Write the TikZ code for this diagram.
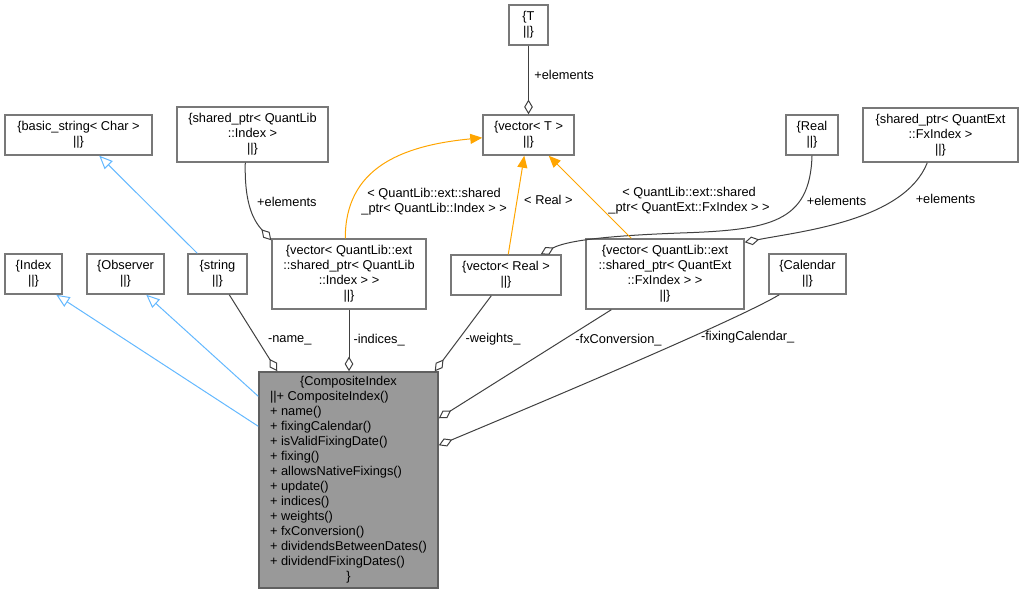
\documentclass[tikz,border=0pt]{standalone}
\usepackage{fontspec}
\setmainfont{Liberation Sans}
\usepackage{xcolor}
\usepackage{tikz}
\usetikzlibrary{arrows.meta, calc}

\definecolor{boxgray}{HTML}{787878}
\definecolor{edgegray}{HTML}{404040}
\definecolor{inhblue}{HTML}{63B8FF}
\definecolor{tmplorange}{HTML}{FFA500}
\definecolor{cifill}{HTML}{999999}
\newcommand{\dxfont}{\fontsize{9.6pt}{11.25pt}\selectfont}

\begin{document}
\begin{tikzpicture}[
  x=0.75pt, y=-0.75pt,
  cls/.style 2 args = {
    draw=boxgray, line width=1.1pt, fill=white, inner sep=0pt,
    minimum width={#1*0.75pt}, minimum height={#2*0.75pt},
    align=center, font=\dxfont
  },
  lbl/.style  = {font=\dxfont, inner sep=0pt, anchor=west, align=center},
  agg/.style  = {-{Diamond[open, fill=white, length=11pt, width=6.5pt]},
                 draw=edgegray, line width=0.75pt},
  inh/.style  = {-{Triangle[open, fill=white, length=10pt, width=8.5pt]},
                 draw=inhblue, line width=0.75pt},
  tmpl/.style = {-{Triangle[length=9pt, width=7.5pt]},
                 draw=tmplorange, line width=0.75pt}
]
\useasboundingbox (0,0) rectangle (1023,593);

% template and element classes
\node[cls={39}{40}]   (T)      at (528.5,25)  {\{T\\||\}};
\node[cls={91}{40}]   (vecT)   at (528.5,135) {\{vector< T >\\||\}};
\node[cls={147}{40}]  (basic)  at (78.5,135)  {\{basic\_string< Char >\\||\}};
\node[cls={151}{55}]  (spQL)   at (252.5,134.5)
  {\{shared\_ptr< QuantLib\\::Index >\\||\}};
\node[cls={52}{40}]   (Real)   at (812,135)   {\{Real\\||\}};
\node[cls={155}{54}]  (spFx)   at (940.5,135)
  {\{shared\_ptr< QuantExt\\::FxIndex >\\||\}};

% direct members and bases
\node[cls={57}{40}]   (Index)    at (33.5,274)  {\{Index\\||\}};
\node[cls={77}{40}]   (Observer) at (125.5,274) {\{Observer\\||\}};
\node[cls={59}{40}]   (string)   at (217.5,274) {\{string\\||\}};
\node[cls={154}{70}]  (vecQL)    at (349,274)
  {\{vector< QuantLib::ext\\::shared\_ptr< QuantLib\\::Index > >\\||\}};
\node[cls={110}{40}]  (vecReal)  at (506,275)   {\{vector< Real >\\||\}};
\node[cls={158}{70}]  (vecFx)    at (665,274)
  {\{vector< QuantLib::ext\\::shared\_ptr< QuantExt\\::FxIndex > >\\||\}};
\node[cls={77}{40}]   (Calendar) at (807.5,274) {\{Calendar\\||\}};

% the class itself
\node[cls={179}{216}, fill=cifill, draw=boxgray!80!black] (ci) at (348.5,480) {%
  \begin{tabular}{@{}l@{}}
  \multicolumn{1}{@{}c@{}}{\{CompositeIndex}\\
  ||+ CompositeIndex()\\
  + name()\\
  + fixingCalendar()\\
  + isValidFixingDate()\\
  + fixing()\\
  + allowsNativeFixings()\\
  + update()\\
  + indices()\\
  + weights()\\
  + fxConversion()\\
  + dividendsBetweenDates()\\
  + dividendFixingDates()\\
  \multicolumn{1}{@{}c@{}}{\}}
  \end{tabular}};

% inheritance
\draw[inh] ($(ci.north west)+(0,55)$) -- ($(Index.south west)+(52,0)$);
\draw[inh] ($(ci.north west)+(0,25)$) -- ($(Observer.south west)+(60,0)$);
\draw[inh] ($(string.north west)+(10,0)$) -- ($(basic.south west)+(95,0)$);

% members
\draw[agg] ($(string.south west)+(42,0)$) --
  node[lbl, pos=0.59, xshift=7.5pt] {-name\_} ($(ci.north west)+(19,0)$);
\draw[agg] (vecQL.south) --
  node[lbl, pos=0.49, xshift=3pt] {-indices\_} (vecQL.south |- ci.north);
\draw[agg] ($(vecReal.south west)+(41,0)$) --
  node[lbl, pos=0.58, xshift=5pt] {-weights\_} ($(ci.north east)+(-4,0)$);
\draw[agg] ($(vecFx.south west)+(26,0)$) --
  node[lbl, pos=0.28, xshift=9pt] {-fxConversion\_} ($(ci.north east)+(0,47)$);
\draw[agg] ($(Calendar.south west)+(11,0)$) .. controls +(-40,24) and +(122,-51) ..
  ($(ci.north east)+(0,74)$) node[lbl, pos=0.36, xshift=7pt] {-fixingCalendar\_};

% elements
\draw[agg] (T.south) --
  node[lbl, pos=0.43, xshift=4pt] {+elements} (vecT.north);
\draw[agg] ($(spQL.south west)+(69,0)$) .. controls +(-1,43) and +(-17,-19) ..
  ($(vecQL.north west)+(0,2)$) node[lbl, pos=0.38, xshift=6pt] {+elements};
\coordinate (realbend) at (680,233);
\draw[agg] (Real.south) .. controls +(-2,67) and +(90,-3) ..
  (realbend) node[lbl, pos=0.3, xshift=5pt] {+elements}
  .. controls +(-80,3) and +(25,-13) .. ($(vecReal.north east)+(-21,0)$);
\draw[agg] ($(spFx.south west)+(65,0)$) .. controls +(-23,58) and +(56,-11) ..
  ($(vecFx.north east)+(0,4)$) node[lbl, pos=0.26, xshift=15pt] {+elements};

% template instances
\draw[tmpl] ($(vecQL.north west)+(74,0)$) .. controls +(0,-69) and +(-83,8) ..
  ($(vecT.south west)+(0,-18)$)
  node[lbl, pos=0.2, xshift=7pt] {< QuantLib::ext::shared\\\_ptr< QuantLib::Index > >};
\draw[tmpl] ($(vecReal.north west)+(58,0)$) --
  node[lbl, pos=0.55, xshift=5pt] {< Real >} ($(vecT.south west)+(42,0)$);
\draw[tmpl] ($(vecFx.north west)+(46,0)$) --
  node[lbl, pos=0.46, xshift=11pt] {< QuantLib::ext::shared\\\_ptr< QuantExt::FxIndex > >}
  ($(vecT.south east)+(-26,0)$);

\end{tikzpicture}
\end{document}
